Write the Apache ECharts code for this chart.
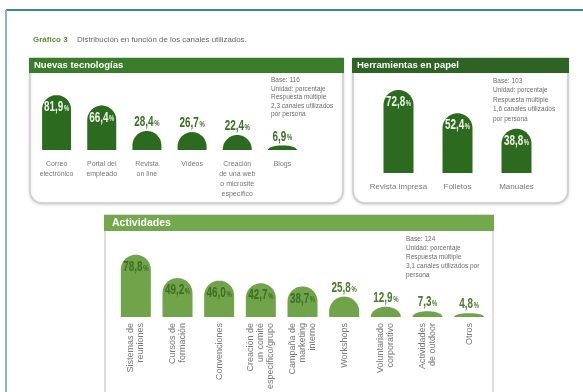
<!DOCTYPE html>
<html>
<head>
<meta charset="utf-8">
<script src="https://cdn.jsdelivr.net/npm/echarts@6/dist/echarts.min.js"></script>
<style>
  html, body { margin: 0; padding: 0; background: #ffffff; }
  #chart { width: 583px; height: 392px; }
</style>
</head>
<body>
<div id="chart"></div>
<script>
// Canales de comunicación interna: porcentaje de empresas que usan cada canal
const techCategories = ['Correo\nelectrónico', 'Portal del\nempleado', 'Revista\non line', 'Vídeos', 'Creación\nde una web\no microsite\nespecífico', 'Blogs'];
const techValues = [81.9, 66.4, 28.4, 26.7, 22.4, 6.9];

const paperCategories = ['Revista impresa', 'Folletos', 'Manuales'];
const paperValues = [72.8, 52.4, 38.8];

const activityCategories = ['Sistemas de\nreuniones', 'Cursos de\nformación', 'Convenciones', 'Creación de\nun comité\nespecífico/grupo', 'Campaña de\nmarketing\ninterno', 'Workshops', 'Voluntariado\ncorporativo', 'Actividades\nde outdoor', 'Otros'];
const activityValues = [78.8, 49.2, 46.0, 42.7, 38.7, 25.8, 12.9, 7.3, 4.8];

const techNote = ['Base: 116', 'Unidad: porcentaje', 'Respuesta múltiple', '2,3 canales utilizados', 'por persona'];
const paperNote = ['Base: 103', 'Unidad: porcentaje', 'Respuesta múltiple', '1,6 canales utilizados', 'por persona'];
const activityNote = ['Base: 124', 'Unidad: porcentaje', 'Respuesta múltiple', '3,1 canales utilizados por', 'persona'];

const NUM_FONT = '"Liberation Sans", Arial, sans-serif';
const TXT_FONT = '"Liberation Sans", Arial, sans-serif';

function fmt(v) { return v.toFixed(1).replace('.', ','); }

// Bar with a half-ellipse cap; the cap flattens when the bar is shorter than its radius
function domeRenderer(barWidth, fill, insideColor, outsideColor) {
  return function (params, api) {
    const idx = api.value(0);
    const v = api.value(1);
    const base = api.coord([idx, 0]);
    const top = api.coord([idx, v]);
    const cx = base[0], yb = base[1], yt = top[1];
    const h = yb - yt;
    const rx = barWidth / 2;
    const ry = Math.min(h, rx);
    const pts = [[cx - rx, yb]];
    const n = 36;
    for (let k = 0; k <= n; k++) {
      const a = Math.PI - Math.PI * k / n;
      pts.push([cx + rx * Math.cos(a), yt + ry - ry * Math.sin(a)]);
    }
    pts.push([cx + rx, yb]);
    const inside = h > 30;
    const color = inside ? insideColor : outsideColor;
    return {
      type: 'group',
      children: [
        { type: 'polygon', shape: { points: pts }, style: { fill: fill } },
        {
          // condensed figures: horizontally squeezed bold text
          type: 'text',
          x: cx,
          y: inside ? yt + 12 : yt - 9,
          scaleX: 0.66,
          style: {
            text: '{n|' + fmt(v) + '}{p|%}',
            align: 'center',
            verticalAlign: 'middle',
            fill: color,
            rich: {
              n: { fontFamily: NUM_FONT, fontWeight: 'bold', fontSize: 15, fill: color },
              p: { fontFamily: NUM_FONT, fontWeight: 'bold', fontSize: 9, fill: color, padding: [3, 0, 0, 1] }
            }
          }
        }
      ]
    };
  };
}

function noteText(lines, x, y, lh) {
  return {
    type: 'text', x: x, y: y, z: 5,
    style: { text: lines.join('\n'), fill: '#6b6b6b', fontFamily: TXT_FONT, fontSize: 6.5, lineHeight: lh, verticalAlign: 'top' }
  };
}

const DARK = '#2c6a1f';
const LIGHT = '#70a34a';

const chart = echarts.init(document.getElementById('chart'), null, { renderer: 'canvas' });

const option = {
  backgroundColor: '#ffffff',
  animation: false,
  grid: [
    { left: 34, width: 271, top: 83, height: 67 },
    { left: 369, width: 177, top: 59, height: 114 },
    { left: 115, width: 375, top: 238, height: 86 }
  ],
  xAxis: [
    {
      gridIndex: 0, type: 'category', data: techCategories,
      axisLine: { show: false }, axisTick: { show: false },
      axisLabel: { interval: 0, margin: 9, color: '#777', fontFamily: TXT_FONT, fontSize: 7, lineHeight: 10 }
    },
    {
      gridIndex: 1, type: 'category', data: paperCategories,
      axisLine: { show: false }, axisTick: { show: false },
      axisLabel: { interval: 0, margin: 9, color: '#777', fontFamily: TXT_FONT, fontSize: 8, lineHeight: 10 }
    },
    {
      gridIndex: 2, type: 'category', data: activityCategories,
      axisLine: { show: false }, axisTick: { show: false },
      axisLabel: { interval: 0, margin: 6, rotate: 90, color: '#777', fontFamily: TXT_FONT, fontSize: 9, lineHeight: 10 }
    }
  ],
  yAxis: [0, 1, 2].map(function (g) {
    return { gridIndex: g, type: 'value', min: 0, max: 100, show: false, splitLine: { show: false } };
  }),
  series: [
    {
      type: 'custom', xAxisIndex: 0, yAxisIndex: 0,
      data: techValues.map(function (v, i) { return [i, v]; }),
      encode: { x: 0, y: 1 },
      renderItem: domeRenderer(29, DARK, '#eef5e6', '#3b6f26')
    },
    {
      type: 'custom', xAxisIndex: 1, yAxisIndex: 1,
      data: paperValues.map(function (v, i) { return [i, v]; }),
      encode: { x: 0, y: 1 },
      renderItem: domeRenderer(30, DARK, '#eef5e6', '#3b6f26')
    },
    {
      type: 'custom', xAxisIndex: 2, yAxisIndex: 2,
      data: activityValues.map(function (v, i) { return [i, v]; }),
      encode: { x: 0, y: 1 },
      renderItem: domeRenderer(30, LIGHT, '#3f6e22', '#4a7a2c')
    }
  ],
  graphic: {
    elements: [
      // outer frame
      { type: 'line', z: 0, shape: { x1: 6, y1: 10, x2: 600, y2: 10 }, style: { stroke: '#3a8c90', lineWidth: 2 } },
      { type: 'line', z: 0, shape: { x1: 6, y1: 10, x2: 6, y2: 400 }, style: { stroke: '#86b8bc', lineWidth: 2 } },
      // heading
      { type: 'text', x: 33, y: 40, z: 5, style: { text: 'Gráfico 3', fill: '#5a8f38', fontFamily: TXT_FONT, fontWeight: 'bold', fontSize: 8, verticalAlign: 'middle' } },
      { type: 'text', x: 77, y: 40, z: 5, style: { text: 'Distribución en función de los canales utilizados.', fill: '#666', fontFamily: TXT_FONT, fontSize: 7.9, verticalAlign: 'middle' } },
      // panel boxes
      { type: 'rect', z: 0, shape: { x: 30, y: 58, width: 313, height: 145, r: [0, 0, 12, 12] },
        style: { fill: '#ffffff', stroke: '#cdcdcd', lineWidth: 1.5, shadowBlur: 3, shadowColor: 'rgba(0,0,0,0.15)', shadowOffsetY: 1 } },
      { type: 'rect', z: 0, shape: { x: 353, y: 58, width: 215, height: 145, r: [0, 0, 12, 12] },
        style: { fill: '#ffffff', stroke: '#cdcdcd', lineWidth: 1.5, shadowBlur: 3, shadowColor: 'rgba(0,0,0,0.15)', shadowOffsetY: 1 } },
      { type: 'rect', z: 0, shape: { x: 105, y: 215, width: 388, height: 200 },
        style: { fill: '#ffffff', stroke: '#d3d3d3', lineWidth: 1.5 } },
      // panel headers
      { type: 'rect', z: 1, shape: { x: 29, y: 58, width: 315, height: 15 }, style: { fill: '#3a7c29' } },
      { type: 'text', x: 34, y: 65.5, z: 5, style: { text: 'Nuevas tecnologías', fill: '#ffffff', fontFamily: TXT_FONT, fontWeight: 'bold', fontSize: 9.5, verticalAlign: 'middle' } },
      { type: 'rect', z: 1, shape: { x: 352, y: 58, width: 217, height: 15 }, style: { fill: '#2d6323' } },
      { type: 'text', x: 357, y: 65.5, z: 5, style: { text: 'Herramientas en papel', fill: '#ffffff', fontFamily: TXT_FONT, fontWeight: 'bold', fontSize: 9.5, verticalAlign: 'middle' } },
      { type: 'rect', z: 1, shape: { x: 104, y: 215, width: 390, height: 16 }, style: { fill: '#74a84c' } },
      { type: 'text', x: 112, y: 223, z: 5, style: { text: 'Actividades', fill: '#ffffff', fontFamily: TXT_FONT, fontWeight: 'bold', fontSize: 10.5, verticalAlign: 'middle' } },
      // sample notes
      noteText(techNote, 271, 76, 8.5),
      noteText(paperNote, 493, 76, 9.5),
      noteText(activityNote, 406, 235, 9)
    ]
  }
};

chart.setOption(option);
</script>
</body>
</html>
